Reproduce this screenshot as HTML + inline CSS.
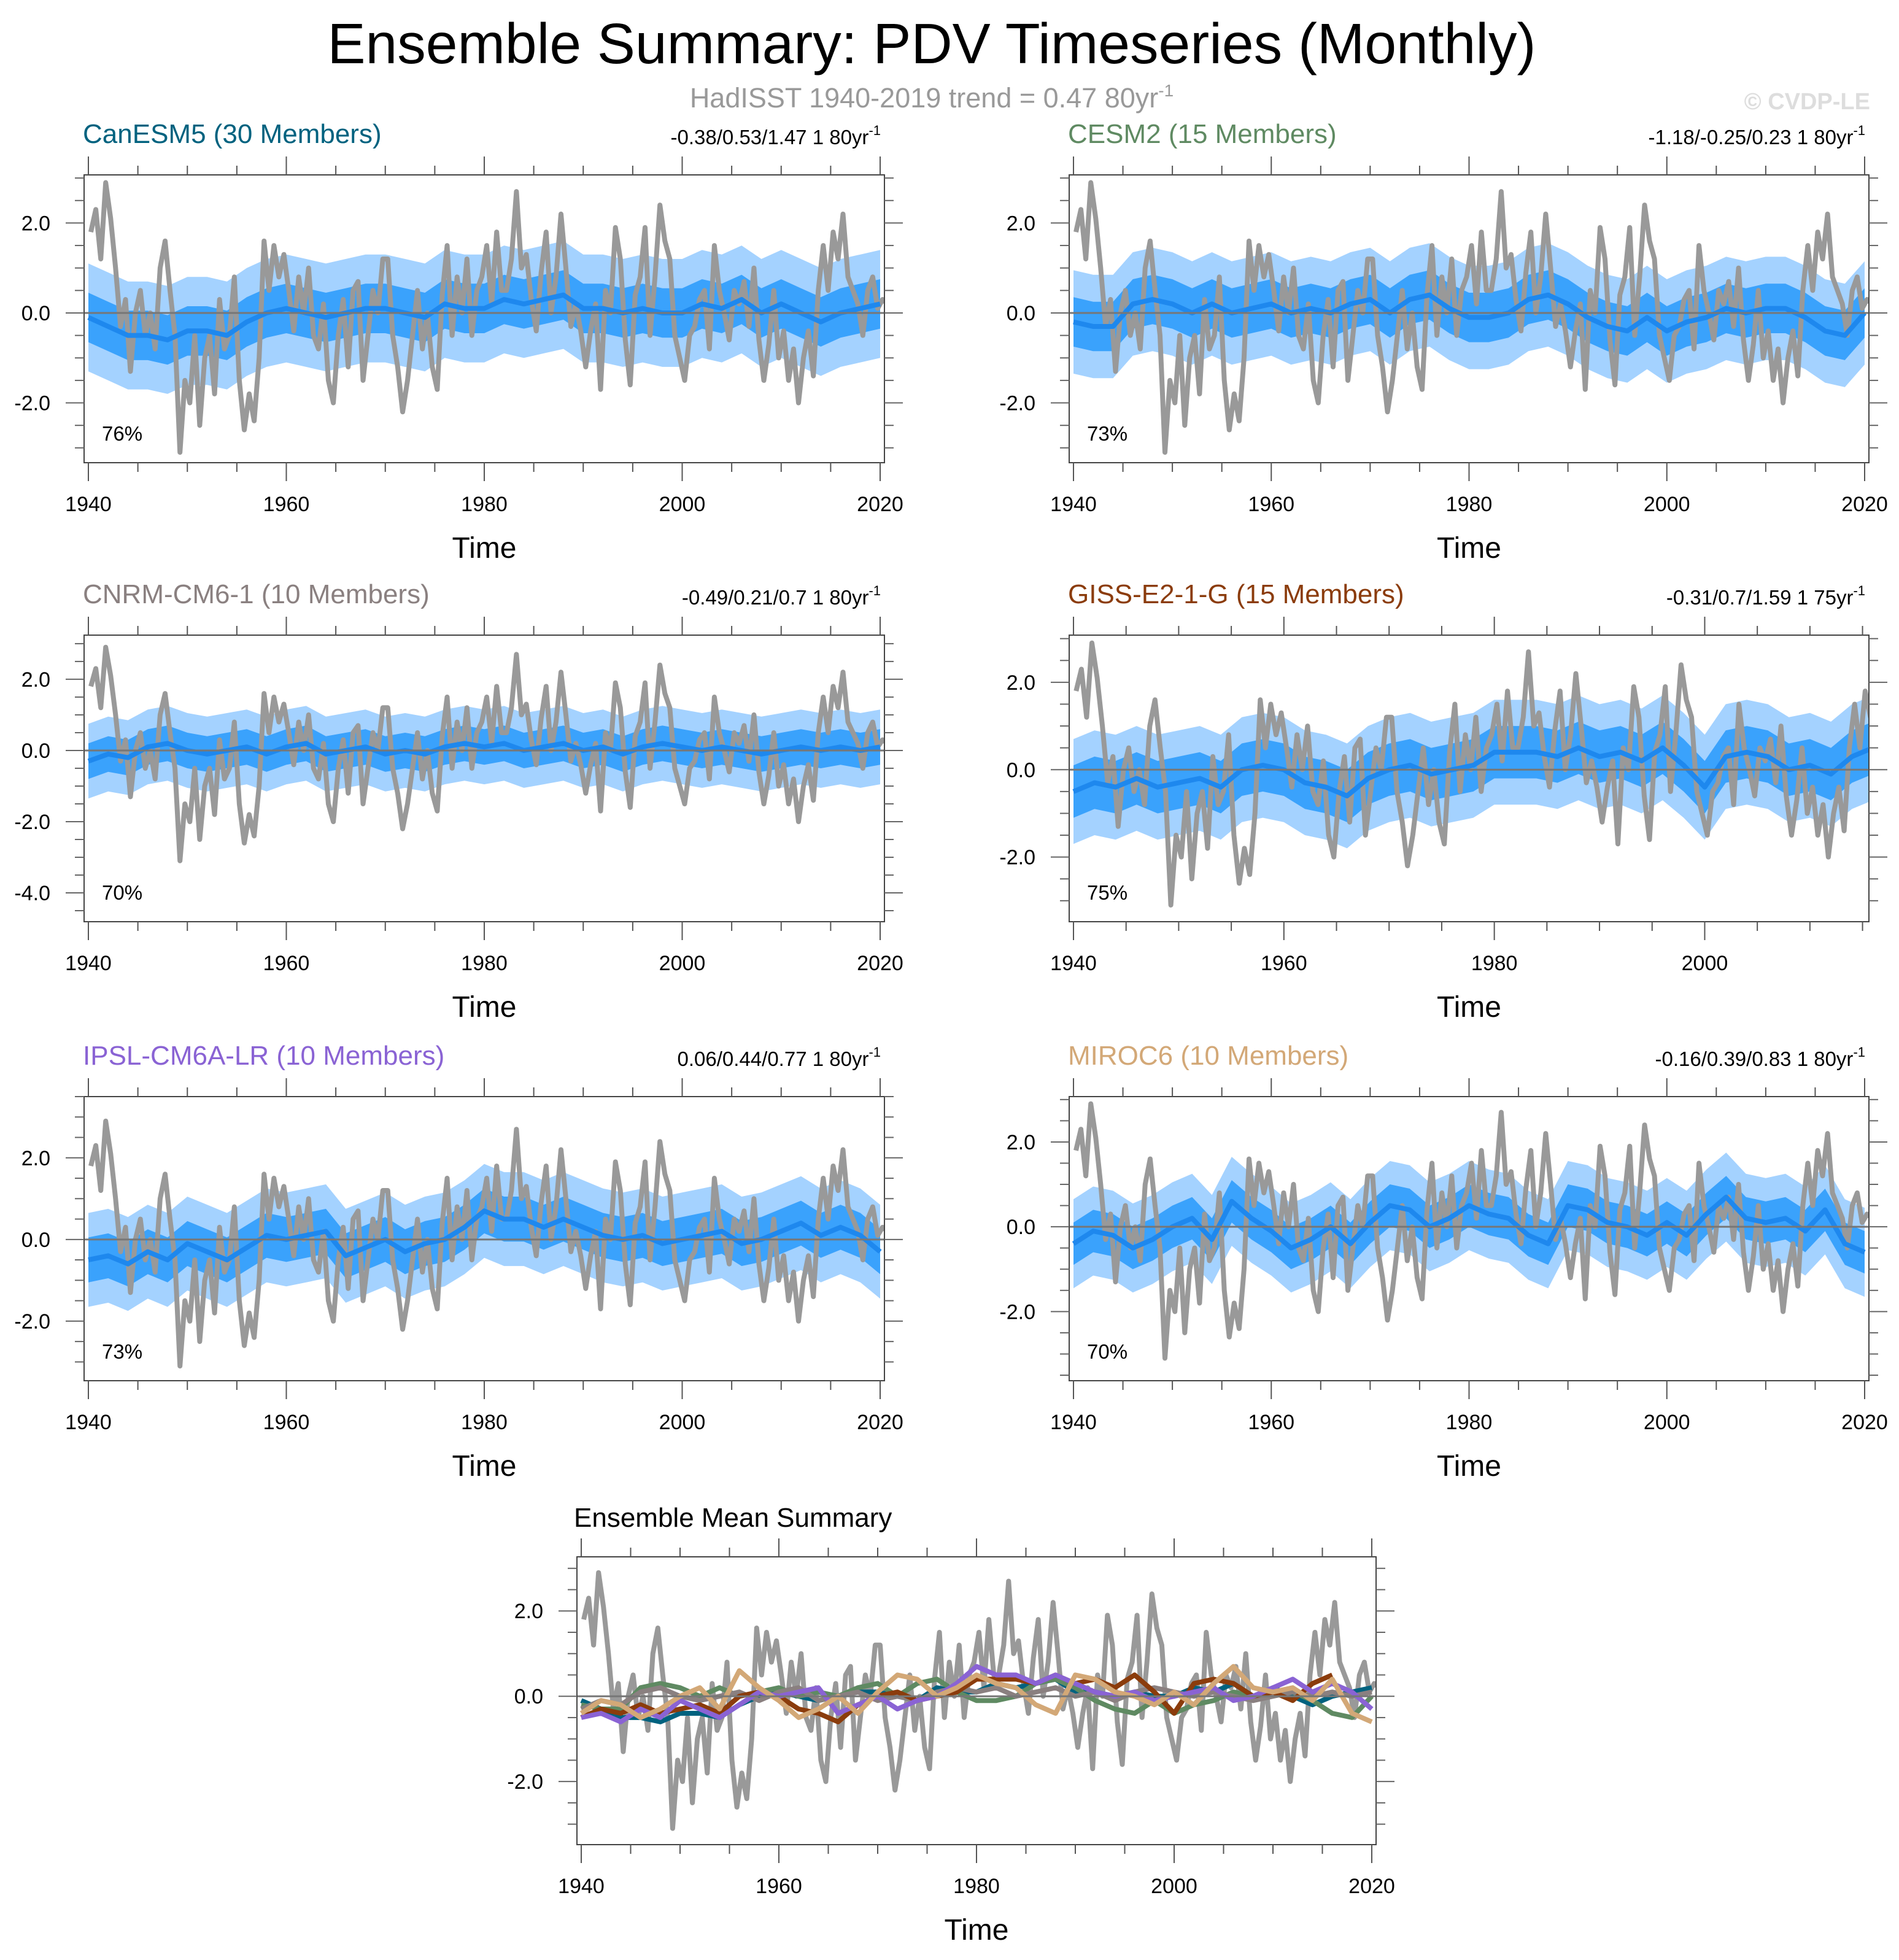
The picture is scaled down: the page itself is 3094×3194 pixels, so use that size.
<!DOCTYPE html>
<html><head><meta charset="utf-8">
<style>
html,body{margin:0;padding:0;background:#fff;}
svg{display:block;font-family:"Liberation Sans",sans-serif;}
</style></head>
<body>
<svg id="fig" width="3094" height="3194" viewBox="0 0 3094 3194" xmlns="http://www.w3.org/2000/svg">
<text x="1518" y="103" font-size="93" text-anchor="middle" fill="#000">Ensemble Summary: PDV Timeseries (Monthly)</text>
<text x="1518" y="175" font-size="45" text-anchor="middle" fill="#999">HadISST 1940-2019 trend = 0.47 80yr<tspan dy="-18" font-size="28">-1</tspan></text>
<text x="3047" y="178" font-size="38" font-weight="bold" text-anchor="end" fill="#ddd">© CVDP-LE</text>
</svg>
<script>
// Observed HadISST PDV, half-year resolution from 1940
const obsValues=[1.8,2.3,1.2,2.9,2.1,1.0,-0.3,0.3,-1.3,0.0,0.5,-0.5,0.0,-0.8,1.0,1.6,0.5,-0.5,-3.1,-1.5,
-2.0,-0.5,-2.5,-1.0,-0.5,-1.8,0.3,-0.8,-0.5,0.8,-1.5,-2.6,-1.8,-2.4,-1.0,1.6,0.5,1.5,
0.8,1.3,0.5,-0.4,0.8,0.0,1.0,-0.5,-0.8,0.2,-1.5,-2.0,-0.5,0.3,-1.2,0.5,0.7,-1.5,-0.5,0.5,
0.0,1.2,1.2,-0.5,-1.2,-2.2,-1.5,-0.5,0.5,-0.8,0.0,-1.2,-1.7,0.4,1.5,-0.5,0.8,0.0,1.2,-0.5,
0.5,0.8,1.5,0.2,1.8,0.5,0.5,1.2,2.7,1.0,1.3,0.3,-0.4,0.9,1.8,0.0,0.8,2.2,1.0,-0.3,
0.2,-0.4,-1.2,-0.4,0.2,-1.7,0.5,0.0,1.9,1.2,-0.6,-1.6,0.4,0.8,1.9,-0.5,0.8,2.4,1.6,1.2,
-0.5,-1.0,-1.5,-0.5,-0.3,0.3,0.5,-0.8,1.5,0.5,0.0,-0.6,0.5,0.2,0.7,-0.3,1.0,-0.6,-1.5,-0.7,
0.5,-1.0,-0.4,-1.5,-0.8,-2.0,-1.0,-0.4,-1.4,0.5,1.5,0.5,1.8,1.2,2.2,0.8,0.5,0.2,-0.5,0.5,0.8,0.1,0.3,0.2];
// Ensemble means, 2-year resolution from 1940
const meanCanESM5=[-0.1,-0.3,-0.5,-0.5,-0.6,-0.4,-0.4,-0.5,-0.2,0.0,0.1,0.0,-0.1,0.0,0.1,0.1,0.0,-0.1,0.2,0.1,0.1,0.3,0.2,0.3,0.4,0.1,0.1,0.0,0.1,0.0,0.0,0.2,0.1,0.3,0.0,0.2,0.0,-0.2,0.0,0.1,0.2];
const meanCESM2=[-0.2,-0.3,-0.3,0.2,0.3,0.2,0.0,0.2,0.0,0.1,0.2,0.0,0.1,0.0,0.2,0.3,0.0,0.3,0.4,0.1,-0.1,-0.1,0.0,0.3,0.4,0.2,-0.1,-0.3,-0.4,-0.1,-0.4,-0.2,-0.1,0.1,0.0,0.1,0.1,-0.1,-0.4,-0.5,0.0];
const meanCNRM=[-0.3,-0.1,-0.2,0.1,0.2,0.0,-0.1,0.0,0.1,-0.1,0.1,0.2,-0.1,0.0,0.1,-0.1,0.0,-0.1,0.1,0.2,0.1,0.2,0.0,0.1,0.2,0.0,0.1,-0.1,0.1,0.2,0.1,0.0,0.1,0.0,-0.1,0.0,0.1,0.0,0.1,0.0,0.1];
const meanGISS=[-0.5,-0.3,-0.4,-0.2,-0.4,-0.3,-0.2,-0.4,0.0,0.1,0.0,-0.3,-0.4,-0.6,-0.2,0.0,0.1,-0.1,0.0,0.1,0.4,0.4,0.4,0.3,0.5,0.3,0.4,0.2,0.5,0.1,-0.4,0.3,0.4,0.3,0.0,0.1,-0.1,0.3,0.5];
const meanIPSL=[-0.5,-0.4,-0.6,-0.3,-0.5,-0.1,-0.3,-0.5,-0.2,0.1,0.0,0.1,0.2,-0.4,-0.2,0.0,-0.3,-0.1,0.0,0.3,0.7,0.5,0.5,0.3,0.5,0.3,0.1,0.0,0.1,-0.1,0.0,0.1,0.2,-0.1,0.0,0.2,0.4,0.1,0.3,0.1,-0.3];
const meanMIROC=[-0.4,-0.1,-0.2,-0.5,-0.3,0.0,0.2,-0.3,0.6,0.2,-0.1,-0.5,-0.3,0.0,-0.4,0.1,0.5,0.4,0.0,0.2,0.5,0.3,0.2,-0.2,-0.4,0.5,0.4,0.1,0.0,-0.2,0.1,-0.2,0.3,0.7,0.2,0.1,0.2,-0.1,0.4,-0.4,-0.6];
// Envelope half-widths (outer ~ full range, inner ~ interquartile)
const outerSpread=[1.2,1.15,1.05,1.2,1.15,1.05];
const innerSpread=[0.55,0.55,0.5,0.6,0.55,0.5];
const modelNames=["CanESM5 (30 Members)","CESM2 (15 Members)","CNRM-CM6-1 (10 Members)","GISS-E2-1-G (15 Members)","IPSL-CM6A-LR (10 Members)","MIROC6 (10 Members)"];
const statLabels=["-0.38/0.53/1.47 1 80yr","-1.18/-0.25/0.23 1 80yr","-0.49/0.21/0.7 1 80yr","-0.31/0.7/1.59 1 75yr","0.06/0.44/0.77 1 80yr","-0.16/0.39/0.83 1 80yr"];
const pctLabels=["76%","73%","70%","75%","73%","70%"];
const yTickLabels=[[-2,0,2],[-2,0,2],[-4,-2,0,2],[-2,0,2],[-2,0,2],[-2,0,2]];
const xTickLabels=[1940,1960,1980,2000,2020];
const modelColors=["#00627f","#5f8a62","#8a8080","#8b3c0c","#8a63d4","#d3a877"];

const NS="http://www.w3.org/2000/svg";
const svg=document.getElementById('fig');
function mk(tag,attrs,parent){const e=document.createElementNS(NS,tag);for(const k in attrs)e.setAttribute(k,attrs[k]);(parent||svg).appendChild(e);return e;}

const means=[meanCanESM5,meanCESM2,meanCNRM,meanGISS,meanIPSL,meanMIROC];
const panels=[
 {x0:137,x1:1441,y0:285,y1:754,xmax:2020,ymin:-3.33,ymax:3.07},
 {x0:1742,x1:3045,y0:285,y1:754,xmax:2020,ymin:-3.33,ymax:3.07},
 {x0:137,x1:1441,y0:1035,y1:1502,xmax:2020,ymin:-4.81,ymax:3.24},
 {x0:1742,x1:3045,y0:1035,y1:1502,xmax:2015.2,ymin:-3.48,ymax:3.08},
 {x0:137,x1:1441,y0:1787,y1:2250,xmax:2020,ymin:-3.46,ymax:3.5},
 {x0:1742,x1:3045,y0:1787,y1:2250,xmax:2020,ymin:-3.63,ymax:3.07}
];

function axes(p,idx,yt,xt){
 const pad=7;
 const xs=t=>p.x0+pad+(t-1940)/(p.xmax-1940)*(p.x1-p.x0-2*pad);
 const ys=v=>p.y1-(v-p.ymin)/(p.ymax-p.ymin)*(p.y1-p.y0);
 const g=mk('g',{});
 
 
 const cid='clip'+idx;
 const cp=mk('clipPath',{id:cid},g);mk('rect',{x:p.x0,y:p.y0,width:p.x1-p.x0,height:p.y1-p.y0},cp);
 const plot=mk('g',{'clip-path':'url(#'+cid+')'},g);
 return {xs,ys,g,plot,p,yt,xt};
}
function frame(A){
 const {xs,ys,g,p,yt,xt}=A;
 const zl=mk('line',{x1:p.x0,x2:p.x1,y1:ys(0),y2:ys(0),stroke:'#777','stroke-width':3},A.plot);
 
 
 const fr=mk('rect',{x:p.x0,y:p.y0,width:p.x1-p.x0,height:p.y1-p.y0,fill:'none',stroke:'#444','stroke-width':2},g);
 
 
 for(let t=1940;t<=p.xmax+0.01;t+=5){
  const maj=(t%20===0),L=maj?30:15,x=xs(t);
  mk('line',{x1:x,x2:x,y1:p.y0,y2:p.y0-L,stroke:'#555','stroke-width':2},g);
  mk('line',{x1:x,x2:x,y1:p.y1,y2:p.y1+L,stroke:'#555','stroke-width':2},g);
 }
 for(let v=Math.ceil(p.ymin*2)/2;v<=p.ymax;v+=0.5){
  const maj=Math.abs(v%2)<0.01,L=maj?30:15,y=ys(v);
  mk('line',{x1:p.x0,x2:p.x0-L,y1:y,y2:y,stroke:'#666','stroke-width':2},g);
  mk('line',{x1:p.x1,x2:p.x1+L,y1:y,y2:y,stroke:'#666','stroke-width':2},g);
 }
 yt.forEach(v=>{const t=mk('text',{x:p.x0-55,y:ys(v)+12,'font-size':34,'text-anchor':'end'},g);t.textContent=v.toFixed(1);
  
  });
 xt.forEach(v=>{if(v>p.xmax+0.01)return;const t=mk('text',{x:xs(v),y:p.y1+79,'font-size':34,'text-anchor':'middle'},g);t.textContent=v;
  
  });
 const tt=mk('text',{x:(p.x0+p.x1)/2,y:p.y1+155,'font-size':48,'text-anchor':'middle'},g);tt.textContent='Time';
 
 
}
function linePath(A,arr,t0,dt){return arr.map((v,i)=>(i?'L':'M')+A.xs(t0+i*dt).toFixed(1)+','+A.ys(v).toFixed(1)).join(' ');}
function bandPath(A,arr,w){
 let up=arr.map((v,i)=>(i?'L':'M')+A.xs(1940+2*i).toFixed(1)+','+A.ys(v+w).toFixed(1)).join(' ');
 let dn=arr.slice().reverse().map((v,j)=>{const i=arr.length-1-j;return 'L'+A.xs(1940+2*i).toFixed(1)+','+A.ys(v-w).toFixed(1);}).join(' ');
 return up+' '+dn+' Z';
}

panels.forEach((p,idx)=>{
 const A=axes(p,idx,yTickLabels[idx],xTickLabels);
 const m=means[idx];
 const ob=mk('path',{d:bandPath(A,m,outerSpread[idx]),fill:'#a4d2ff'},A.plot);
 
 
 const ib=mk('path',{d:bandPath(A,m,innerSpread[idx]),fill:'#3aa2fc'},A.plot);
 
 
 const ol=mk('path',{d:linePath(A,obsValues,1940.25,0.5),fill:'none',stroke:'#999','stroke-width':8,'stroke-linejoin':'round'},A.plot);
 
 
 const ml=mk('path',{d:linePath(A,m,1940,2),fill:'none',stroke:'#1e88ee','stroke-width':8,'stroke-linejoin':'round'},A.plot);
 
 
 frame(A);
 const t=mk('text',{x:p.x0-2,y:p.y0-52,'font-size':44,fill:modelColors[idx]},A.g);t.textContent=modelNames[idx];
 
 
 const s=mk('text',{x:p.x1-6,y:p.y0-50,'font-size':33,'text-anchor':'end'},A.g);s.textContent=statLabels[idx];
 
 
 const sp=mk('tspan',{dy:-15,'font-size':22},s);sp.textContent='-1';
 const pc=mk('text',{x:p.x0+29,y:p.y1-36,'font-size':33},A.g);pc.textContent=pctLabels[idx];
 
 
});

// Bottom ensemble-mean summary
const pb={x0:940,x1:2242,y0:2537,y1:3006,xmax:2020,ymin:-3.48,ymax:3.27};
const B=axes(pb,'summary',[-2,0,2],xTickLabels);
const ob2=mk('path',{d:linePath(B,obsValues,1940.25,0.5),fill:'none',stroke:'#999','stroke-width':8,'stroke-linejoin':'round'},B.plot);


means.forEach((m,i)=>{
 const l=mk('path',{d:linePath(B,m,1940,2),fill:'none',stroke:modelColors[i],'stroke-width':8,'stroke-linejoin':'round'},B.plot);
 
 
});
frame(B);
const bt=mk('text',{x:935,y:2488,'font-size':44},B.g);bt.textContent='Ensemble Mean Summary';


</script>
</body></html>
